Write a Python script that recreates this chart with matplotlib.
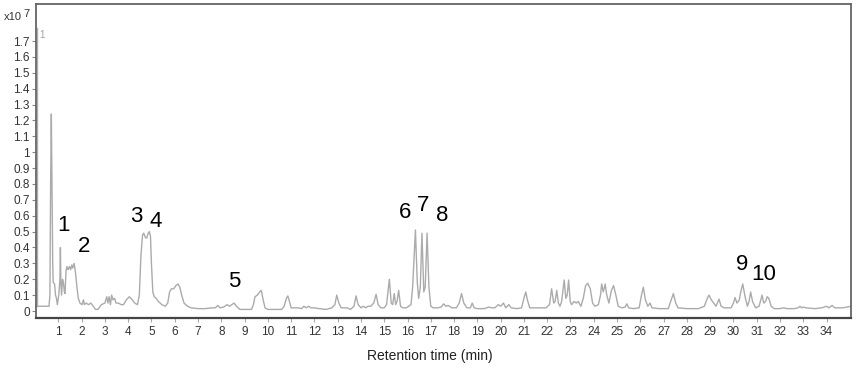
import matplotlib.pyplot as plt
from matplotlib.ticker import FuncFormatter

plt.rcParams['font.family'] = ['Liberation Sans', 'DejaVu Sans']

# chromatogram trace (retention time in min, intensity in 1e7 counts)
rt_min = [
    0.04, 0.60, 0.64, 0.67, 0.70, 0.73, 0.76, 0.78, 0.84, 0.88, 0.92, 0.96,
    1.02, 1.07, 1.09, 1.11, 1.14, 1.18, 1.22, 1.26, 1.29, 1.33, 1.37, 1.42,
    1.48, 1.53, 1.58, 1.62, 1.68, 1.74, 1.80, 1.86, 1.93, 2.02, 2.08, 2.12,
    2.20, 2.30, 2.40, 2.50, 2.60, 2.70, 2.85, 3.00, 3.08, 3.13, 3.18, 3.24,
    3.29, 3.35, 3.42, 3.48, 3.58, 3.70, 3.80, 3.92, 4.05, 4.18, 4.28, 4.40,
    4.48, 4.55, 4.62, 4.67, 4.75, 4.80, 4.86, 4.91, 4.96, 5.00, 5.06, 5.12,
    5.20, 5.30, 5.45, 5.60, 5.70, 5.78, 5.86, 5.96, 6.05, 6.14, 6.22, 6.30,
    6.40, 6.55, 6.70, 7.00, 7.30, 7.60, 7.75, 7.85, 7.95, 8.10, 8.25, 8.35,
    8.45, 8.55, 8.65, 8.80, 9.00, 9.30, 9.38, 9.45, 9.55, 9.65, 9.72, 9.80,
    9.88, 10.00, 10.60, 10.70, 10.80, 10.86, 10.93, 11.00, 11.30, 11.45, 11.55, 11.65,
    11.75, 11.85, 12.00, 12.20, 12.50, 12.75, 12.88, 12.96, 13.05, 13.15, 13.40, 13.55,
    13.70, 13.79, 13.88, 14.00, 14.10, 14.20, 14.30, 14.42, 14.55, 14.65, 14.74, 14.85,
    15.00, 15.10, 15.22, 15.30, 15.36, 15.43, 15.49, 15.55, 15.62, 15.70, 15.80, 15.95,
    16.05, 16.15, 16.22, 16.34, 16.42, 16.48, 16.55, 16.62, 16.70, 16.76, 16.84, 16.92,
    17.00, 17.10, 17.30, 17.45, 17.55, 17.65, 17.75, 17.90, 18.10, 18.22, 18.32, 18.42,
    18.55, 18.70, 18.78, 18.86, 19.00, 19.30, 19.50, 19.60, 19.75, 19.90, 20.00, 20.12,
    20.22, 20.35, 20.45, 20.70, 20.90, 21.00, 21.08, 21.15, 21.25, 21.50, 21.70, 21.95,
    22.10, 22.19, 22.28, 22.34, 22.41, 22.48, 22.55, 22.62, 22.73, 22.80, 22.86, 22.92,
    22.99, 23.05, 23.15, 23.25, 23.33, 23.45, 23.55, 23.65, 23.74, 23.85, 23.95, 24.05,
    24.20, 24.29, 24.34, 24.41, 24.49, 24.56, 24.65, 24.76, 24.85, 24.95, 25.05, 25.20,
    25.35, 25.42, 25.50, 25.70, 25.95, 26.05, 26.13, 26.22, 26.32, 26.42, 26.50, 26.80,
    27.20, 27.33, 27.42, 27.52, 27.62, 28.00, 28.50, 28.75, 28.88, 28.95, 29.05, 29.15,
    29.25, 29.38, 29.47, 29.60, 29.90, 30.00, 30.07, 30.15, 30.25, 30.33, 30.40, 30.50,
    30.60, 30.67, 30.74, 30.82, 30.95, 31.10, 31.23, 31.30, 31.38, 31.45, 31.52, 31.62,
    31.75, 32.00, 32.15, 32.30, 32.60, 32.78, 32.86, 32.93, 33.00, 33.10, 33.50, 33.80,
    34.00, 34.10, 34.24, 34.35, 34.70, 35.05,
]
signal = [
    0.03, 0.03, 0.10, 0.80, 1.24, 0.80, 0.30, 0.18, 0.17, 0.10, 0.08, 0.04,
    0.10, 0.20, 0.40, 0.18, 0.10, 0.20, 0.18, 0.12, 0.11, 0.25, 0.28, 0.26,
    0.28, 0.26, 0.29, 0.27, 0.30, 0.24, 0.15, 0.08, 0.05, 0.04, 0.07, 0.04,
    0.05, 0.04, 0.05, 0.03, 0.01, 0.01, 0.04, 0.05, 0.09, 0.05, 0.09, 0.04,
    0.10, 0.07, 0.08, 0.05, 0.05, 0.04, 0.04, 0.07, 0.09, 0.07, 0.05, 0.04,
    0.10, 0.35, 0.48, 0.49, 0.46, 0.46, 0.49, 0.50, 0.47, 0.30, 0.12, 0.09,
    0.08, 0.06, 0.04, 0.03, 0.05, 0.12, 0.14, 0.14, 0.16, 0.17, 0.15, 0.10,
    0.05, 0.03, 0.02, 0.015, 0.015, 0.02, 0.02, 0.035, 0.02, 0.025, 0.04, 0.03,
    0.04, 0.05, 0.03, 0.01, 0.01, 0.01, 0.04, 0.09, 0.10, 0.12, 0.13, 0.07,
    0.02, 0.01, 0.01, 0.03, 0.08, 0.095, 0.06, 0.02, 0.02, 0.015, 0.03, 0.02,
    0.03, 0.02, 0.02, 0.015, 0.01, 0.02, 0.04, 0.10, 0.05, 0.02, 0.02, 0.01,
    0.03, 0.095, 0.04, 0.02, 0.03, 0.02, 0.03, 0.03, 0.05, 0.105, 0.04, 0.02,
    0.02, 0.04, 0.20, 0.05, 0.04, 0.11, 0.04, 0.06, 0.13, 0.03, 0.02, 0.02,
    0.03, 0.04, 0.15, 0.51, 0.18, 0.08, 0.15, 0.49, 0.12, 0.15, 0.49, 0.15,
    0.03, 0.02, 0.02, 0.025, 0.045, 0.03, 0.035, 0.02, 0.02, 0.05, 0.11, 0.05,
    0.02, 0.02, 0.05, 0.02, 0.015, 0.015, 0.025, 0.02, 0.02, 0.04, 0.03, 0.05,
    0.02, 0.04, 0.02, 0.015, 0.02, 0.08, 0.12, 0.07, 0.02, 0.02, 0.02, 0.02,
    0.04, 0.14, 0.05, 0.06, 0.13, 0.05, 0.03, 0.06, 0.195, 0.08, 0.10, 0.195,
    0.06, 0.04, 0.06, 0.05, 0.06, 0.03, 0.08, 0.16, 0.175, 0.14, 0.05, 0.03,
    0.04, 0.10, 0.17, 0.12, 0.17, 0.10, 0.05, 0.13, 0.16, 0.10, 0.03, 0.02,
    0.025, 0.045, 0.02, 0.015, 0.02, 0.10, 0.15, 0.07, 0.03, 0.05, 0.02, 0.015,
    0.015, 0.07, 0.11, 0.05, 0.02, 0.015, 0.015, 0.03, 0.08, 0.10, 0.07, 0.05,
    0.03, 0.075, 0.03, 0.02, 0.02, 0.05, 0.085, 0.05, 0.07, 0.13, 0.17, 0.09,
    0.03, 0.06, 0.12, 0.06, 0.02, 0.03, 0.10, 0.05, 0.06, 0.09, 0.08, 0.03,
    0.015, 0.015, 0.02, 0.015, 0.015, 0.02, 0.03, 0.02, 0.025, 0.02, 0.015, 0.02,
    0.03, 0.02, 0.035, 0.02, 0.02, 0.03,
]

# peak numbers and where they are written
peak_labels = ['1', '2', '3', '4', '5', '6', '7', '8', '9', '10']
label_rt = [1.21, 2.10, 4.34, 5.18, 8.56, 15.89, 16.65, 17.47, 30.39, 31.32]
label_y = [0.536, 0.405, 0.594, 0.563, 0.184, 0.621, 0.667, 0.600, 0.290, 0.231]

x_ticks = list(range(1, 35))
y_ticks = [i / 10 for i in range(0, 18)]

fig = plt.figure(figsize=(8.56, 3.68), dpi=100)
ax = fig.add_axes([36 / 856, 1 - 318 / 368, 815 / 856, 314 / 368])

ax.plot(rt_min, signal, color='#ababab', lw=1.0)
# grey marker line along the left edge
ax.plot([0.09, 0.09], [1.78, 0.03], color='#b0b0b0', lw=1.0)
ax.text(0.2, 1.74, '1', color='#a0a0a0', fontsize=7, ha='left', va='center')

for lab, t, v in zip(peak_labels, label_rt, label_y):
    ax.text(t, v, lab, fontsize=16, ha='center', va='center', color='black')

ax.set_xlim(0.042, 35.05)
ax.set_ylim(-0.044, 1.933)
ax.set_xticks(x_ticks)
ax.set_yticks(y_ticks)
ax.yaxis.set_major_formatter(FuncFormatter(lambda v, p: f'{v:g}'))
ax.tick_params(axis='y', length=3, width=0.8, color='#888888', labelsize=8.5,
               labelcolor='#333333', pad=1.5)
ax.tick_params(axis='x', length=3, width=0.8, color='#aaaaaa', labelsize=8.5,
               labelcolor='#333333', pad=3)

for side in ['left', 'right', 'top']:
    ax.spines[side].set_color('#666666')
    ax.spines[side].set_linewidth(1.3)
ax.spines['bottom'].set_color('#444444')
ax.spines['bottom'].set_linewidth(1.6)

fig.text(430 / 856, 1 - 356 / 368, 'Retention time (min)', fontsize=10,
         ha='center', va='center', color='#222222')
fig.text(4 / 856, 1 - 17.5 / 368, 'x10', fontsize=8, ha='left', va='center',
         color='#333333')
fig.text(23 / 856, 1 - 14 / 368, '7', fontsize=8, ha='left', va='center',
         color='#333333')

fig.savefig('out.png', dpi=100)
